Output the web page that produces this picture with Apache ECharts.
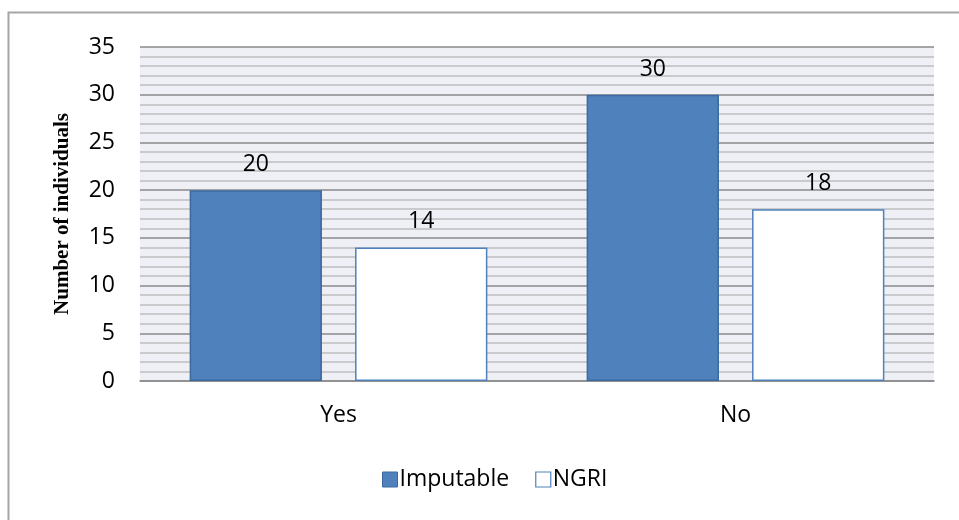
<!DOCTYPE html>
<html>
<head>
<meta charset="utf-8">
<script src="https://cdn.jsdelivr.net/npm/echarts@6/dist/echarts.min.js"></script>
<style>
  html, body { margin: 0; padding: 0; background: #fff; }
  #chart { width: 959px; height: 520px; }
</style>
</head>
<body>
<div id="chart"></div>
<script>
const categories = ['Yes', 'No']
const imputable = [20, 30]
const ngri = [14, 18]
const yTicks = [0, 5, 10, 15, 20, 25, 30, 35]

const chart = echarts.init(document.getElementById('chart'), null, { renderer: 'canvas' })

const labelFont = { color: '#000', fontSize: 23, fontFamily: '"Open Sans", "Noto Sans", sans-serif' }

chart.setOption({
  animation: false,
  backgroundColor: '#fff',
  graphic: [
    {
      type: 'rect',
      shape: { x: 8.5, y: 12.5, width: 1000, height: 1000 },
      style: { fill: 'none', stroke: '#a6a6a6', lineWidth: 2 },
      silent: true
    }
  ],
  grid: {
    left: 140, right: 25, top: 47, bottom: 139,
    show: true, backgroundColor: '#eef0f5', borderWidth: 0
  },
  legend: {
    top: 463,
    left: 377,
    itemWidth: 15,
    itemHeight: 15,
    itemGap: 26,
    icon: 'rect',
    textStyle: { ...labelFont, padding: [0, 0, 0, -3] },
    data: [
      { name: 'Imputable', itemStyle: { color: '#4f81bd', borderColor: '#3c6a9f', borderWidth: 1 } },
      { name: 'NGRI', itemStyle: { color: '#fff', borderColor: '#4f81bd', borderWidth: 1.2 } }
    ]
  },
  xAxis: {
    type: 'category',
    data: categories,
    axisTick: { show: false },
    axisLine: { lineStyle: { color: '#8c8c8c', width: 1.5 } },
    axisLabel: { ...labelFont, margin: 23 }
  },
  yAxis: {
    type: 'value',
    min: yTicks[0],
    max: yTicks[yTicks.length - 1],
    interval: 5,
    name: 'Number of individuals',
    nameLocation: 'middle',
    nameMoveOverlap: false,
    nameGap: 67,
    nameTextStyle: {
      color: '#000', fontSize: 21, fontWeight: 'bold',
      fontFamily: '"Liberation Serif", "DejaVu Serif", serif'
    },
    axisLine: { show: false },
    axisTick: { show: false },
    axisLabel: { ...labelFont, margin: 25, padding: [6, 0, 0, 0] },
    splitLine: { lineStyle: { color: '#8a8a8a', width: 1.5 } },
    minorTick: { show: false, splitNumber: 5 },
    minorSplitLine: { show: true, lineStyle: { color: '#bdbdbd', width: 1.5 } }
  },
  series: [
    {
      name: 'Imputable',
      type: 'bar',
      data: imputable,
      barGap: '25%',
      barCategoryGap: '25%',
      itemStyle: { color: '#4f81bd', borderColor: '#3c6a9f', borderWidth: 1.5 },
      label: { show: true, position: 'top', distance: 14, ...labelFont }
    },
    {
      name: 'NGRI',
      type: 'bar',
      data: ngri,
      itemStyle: { color: '#fff', borderColor: '#4f81bd', borderWidth: 1.5 },
      label: { show: true, position: 'top', distance: 14, ...labelFont }
    }
  ]
})
</script>
</body>
</html>
